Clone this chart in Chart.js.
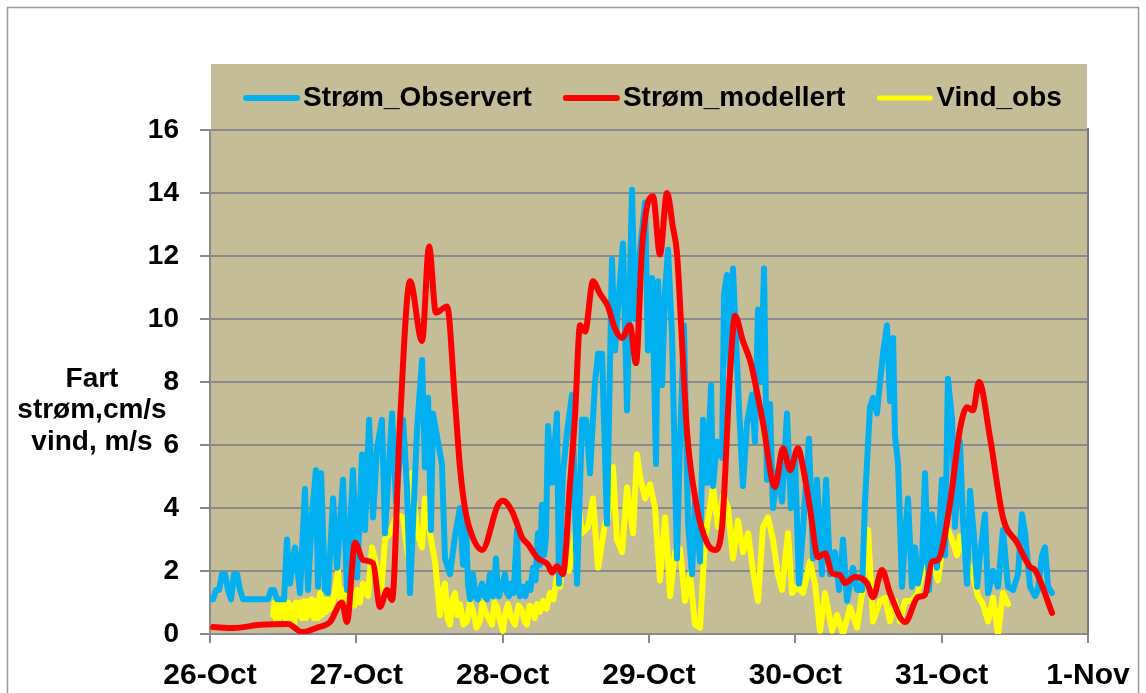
<!DOCTYPE html>
<html><head><meta charset="utf-8">
<script src="https://cdn.jsdelivr.net/npm/chart.js@4/dist/chart.umd.min.js"></script>
<style>html,body{margin:0;padding:0;background:#fff}#wrap{width:1146px;height:693px;position:relative}</style>
</head><body><div id="wrap"><canvas id="c" width="1146" height="693"></canvas></div>
<script>
// ---- data ----
const dateLabels = ["26-Oct","27-Oct","28-Oct","29-Oct","30-Oct","31-Oct","1-Nov"];
const seriesNames = ["Strøm_Observert","Strøm_modellert","Vind_obs"];
const yTitleLines = ["Fart","strøm,cm/s","vind, m/s"];

// days after 26-Oct 00:00
const obsDays = [
0,0.021,0.041,0.062,0.082,0.103,0.123,0.144,0.164,0.185,
0.205,0.226,0.396,0.417,0.437,0.458,0.506,0.526,0.547,0.581,
0.615,0.649,0.670,0.697,0.724,0.738,0.759,0.786,0.806,0.841,
0.868,0.909,0.936,0.977,1.005,1.039,1.059,1.087,1.114,1.141,
1.175,1.196,1.244,1.271,1.319,1.346,1.367,1.415,1.449,1.469,
1.490,1.510,1.524,1.558,1.585,1.606,1.640,1.674,1.708,1.729,
1.749,1.763,1.777,1.787,1.797,1.814,1.831,1.845,1.859,1.876,
1.893,1.903,1.913,1.924,1.934,1.944,1.954,1.965,1.975,1.995,
2.016,2.030,2.043,2.060,2.075,2.098,2.108,2.118,2.140,2.155,
2.173,2.190,2.207,2.225,2.241,2.255,2.269,2.283,2.296,2.310,
2.337,2.371,2.385,2.412,2.440,2.474,2.508,2.542,2.570,2.597,
2.631,2.652,2.679,2.713,2.747,2.768,2.795,2.822,2.850,2.884,
2.904,2.925,2.973,2.993,3.021,3.048,3.062,3.089,3.110,3.130,
3.157,3.191,3.212,3.239,3.267,3.294,3.314,3.349,3.369,3.396,
3.424,3.437,3.465,3.499,3.513,3.533,3.554,3.574,3.595,3.615,
3.642,3.670,3.704,3.724,3.745,3.765,3.786,3.806,3.827,3.847,
3.881,3.909,3.943,3.970,3.998,4.025,4.052,4.093,4.121,4.148,
4.182,4.210,4.237,4.271,4.299,4.326,4.353,4.394,4.422,4.456,
4.476,4.510,4.531,4.558,4.579,4.599,4.626,4.647,4.668,4.681,
4.702,4.729,4.750,4.770,4.797,4.818,4.838,4.866,4.886,4.914,
4.934,4.968,5.002,5.023,5.043,5.071,5.091,5.125,5.146,5.173,
5.194,5.221,5.242,5.262,5.296,5.317,5.351,5.385,5.419,5.453,
5.488,5.522,5.549,5.570,5.604,5.638,5.658,5.686,5.706,5.727,
5.754];
const obsVals = [
1.1,1.1,1.4,1.4,1.9,1.9,1.4,1.1,1.9,1.9,
1.4,1.1,1.1,1.4,1.4,1.1,1.1,3.0,1.6,2.75,
1.3,4.6,1.4,3.8,5.2,1.5,5.1,1.4,1.3,4.3,
2.1,4.9,1.4,5.2,1.8,5.7,3.3,6.8,3.7,5.9,
6.8,3.2,7.0,4.2,6.8,4.7,1.3,6.5,8.7,5.3,
7.5,3.3,7.0,6.1,5.4,2.4,1.9,3.1,4.0,2.2,
3.6,1.6,1.1,1.5,1.9,1.2,1.1,1.4,1.6,1.2,
1.1,1.5,1.9,1.3,1.2,1.6,2.4,1.5,1.2,1.5,
1.9,1.3,1.2,1.6,1.3,3.3,1.6,1.2,1.5,1.2,
1.6,1.4,2.1,1.7,3.2,2.2,4.1,2.5,3.1,6.6,
4.8,7.0,1.6,5.1,6.4,7.6,1.6,6.8,6.8,5.1,
8.0,8.9,8.9,3.5,11.9,9.0,10.8,12.4,7.1,14.1,
10.0,11.6,13.7,9.0,11.3,5.4,11.2,7.9,10.9,12.2,
9.5,2.4,6.1,9.8,3.5,1.9,4.2,2.3,6.8,4.8,
7.9,4.7,6.1,5.6,10.8,11.4,8.2,11.6,9.3,7.2,
4.7,6.7,7.6,6.1,10.3,8.0,11.6,4.9,7.3,4.0,
5.2,4.2,7.0,4.0,5.6,1.6,3.3,6.2,2.4,4.9,
1.9,4.9,1.9,2.6,1.4,3.0,1.05,2.1,1.4,1.4,
4.2,7.2,7.5,7.0,8.0,8.9,9.8,7.4,9.4,6.3,
5.4,1.5,3.2,4.3,1.5,2.75,1.6,2.3,5.1,1.4,
3.8,2.1,4.9,2.5,8.1,6.8,3.4,6.1,3.6,1.6,
4.55,3.1,1.5,2.5,3.8,1.3,2.0,1.5,3.3,1.5,
1.4,1.9,3.8,3.2,1.5,1.2,1.4,2.5,2.75,1.5,
1.3];

const modDays = [
0.021,0.157,0.342,0.533,0.629,0.731,0.820,0.902,0.936,0.991,
1.046,1.114,1.162,1.210,1.244,1.298,1.367,1.449,1.497,1.544,
1.620,1.674,1.708,1.742,1.777,1.859,1.968,2.002,2.063,2.098,
2.132,2.173,2.241,2.310,2.337,2.371,2.412,2.460,2.494,2.529,
2.563,2.617,2.665,2.719,2.767,2.815,2.870,2.911,2.952,2.993,
3.027,3.075,3.123,3.164,3.191,3.232,3.260,3.328,3.396,3.451,
3.499,3.554,3.588,3.642,3.690,3.711,3.779,3.861,3.916,3.964,
4.018,4.052,4.100,4.155,4.203,4.251,4.305,4.339,4.408,4.490,
4.531,4.592,4.647,4.750,4.838,4.886,4.934,4.975,5.057,5.125,
5.173,5.214,5.255,5.330,5.419,5.515,5.604,5.638,5.754];
const modVals = [
0.22,0.19,0.29,0.32,0.06,0.2,0.38,1.0,0.38,2.9,
2.35,2.25,0.86,1.4,1.08,6.7,11.2,9.3,12.3,10.2,
10.4,7.4,5.3,4.0,3.3,2.67,4.1,4.23,3.9,3.5,
3.07,2.85,2.4,2.2,1.95,2.15,1.9,4.75,6.9,9.8,
9.6,11.2,10.8,10.4,9.7,9.4,9.8,8.6,12.2,13.7,
13.9,12.05,14.0,12.9,12.1,8.7,6.4,4.0,2.9,2.67,
3.4,8.3,10.1,9.3,8.7,8.3,6.7,4.67,5.9,5.2,
5.9,5.3,4.0,2.44,2.56,1.93,1.87,1.62,1.81,1.62,
1.17,2.03,1.3,0.38,1.17,1.24,2.29,2.35,4.15,6.5,
7.2,7.1,8.0,6.25,3.7,2.9,2.13,2.03,0.67];

const windDays = [
0.431,0.441,0.451,0.462,0.472,0.482,0.492,0.505,0.519,0.533,
0.547,0.560,0.574,0.588,0.601,0.615,0.629,0.642,0.656,0.670,
0.683,0.697,0.711,0.724,0.738,0.752,0.765,0.779,0.793,0.806,
0.820,0.841,0.858,0.875,0.889,0.902,0.919,0.936,0.953,0.970,
0.988,1.005,1.025,1.046,1.080,1.107,1.141,1.169,1.196,1.230,
1.278,1.319,1.353,1.380,1.415,1.449,1.469,1.503,1.538,1.572,
1.589,1.606,1.623,1.640,1.657,1.674,1.691,1.708,1.732,1.756,
1.776,1.797,1.821,1.845,1.862,1.879,1.903,1.927,1.944,1.961,
1.982,2.002,2.019,2.036,2.060,2.084,2.108,2.132,2.149,2.166,
2.183,2.200,2.218,2.235,2.255,2.276,2.300,2.323,2.347,2.371,
2.392,2.412,2.453,2.487,2.515,2.542,2.583,2.617,2.652,2.699,
2.720,2.754,2.781,2.816,2.850,2.891,2.918,2.939,2.973,3.007,
3.041,3.075,3.110,3.130,3.144,3.178,3.212,3.246,3.280,3.314,
3.349,3.383,3.403,3.437,3.472,3.506,3.540,3.574,3.608,3.642,
3.677,3.711,3.745,3.779,3.813,3.847,3.881,3.909,3.950,3.977,
4.011,4.052,4.100,4.134,4.169,4.203,4.251,4.285,4.326,4.374,
4.422,4.456,4.497,4.531,4.579,4.613,4.647,4.681,4.715,4.750,
4.797,4.838,4.873,4.907,4.941,4.975,5.009,5.043,5.071,5.105,
5.125,5.166,5.207,5.248,5.283,5.317,5.351,5.385,5.419,5.453];
const windVals = [
0.6,1.0,0.4,1.0,0.5,1.1,0.6,0.95,0.4,1.0,
0.5,0.9,0.3,1.0,0.6,1.0,0.5,1.05,0.5,1.05,
0.6,1.1,0.5,1.05,0.5,1.3,0.6,1.1,0.7,1.1,
0.8,1.05,1.5,2.0,1.1,1.4,0.9,1.5,0.9,1.3,
0.9,1.4,1.0,1.6,1.2,2.75,2.1,1.3,3.0,3.2,
3.8,3.7,2.5,5.1,3.2,2.75,4.3,3.2,2.3,0.6,
1.3,1.6,0.5,0.3,1.1,1.3,0.6,0.95,0.3,0.4,
1.0,0.75,0.2,0.4,1.0,0.75,0.5,0.3,1.0,0.85,
0.4,0.1,0.7,0.95,0.5,0.3,0.9,0.75,0.4,0.3,
0.9,0.85,0.5,0.95,0.7,1.05,0.8,1.3,1.1,1.8,
1.5,2.4,2.0,3.0,4.2,3.2,3.4,4.3,2.1,3.5,
3.7,5.3,3.0,2.6,4.65,3.2,5.7,5.0,4.3,4.75,
4.0,1.7,3.7,2.4,1.2,2.6,2.7,1.05,1.9,0.3,
0.2,3.0,3.6,4.65,3.4,4.4,4.0,2.4,3.6,2.6,
3.2,2.0,1.05,3.4,3.7,3.0,1.9,1.4,3.2,1.3,
1.5,1.3,2.3,1.6,0.1,1.3,0.1,0.6,0.0,0.85,
0.2,1.3,3.3,0.4,1.05,1.15,0.4,1.05,0.4,1.05,
1.05,1.3,2.1,1.9,2.2,1.7,2.85,3.3,3.0,2.5,
3.1,2.4,2.0,1.2,0.95,0.4,1.15,0.0,1.3,0.95];

const toXY = (xs, ys) => xs.map((x, i) => ({x: x, y: ys[i]}));

// ---- styling ----
const FONT = '"Liberation Sans", Arial, sans-serif';
const GRID = '#8a8a8a';
const TAN = '#C4BD97';

const decor = {
  id: 'decor',
  beforeDraw(chart) {
    const {ctx, chartArea: a} = chart;
    ctx.save();
    ctx.fillStyle = '#fff';
    ctx.fillRect(0, 0, chart.width, chart.height);
    ctx.strokeStyle = '#9a9a9a';
    ctx.lineWidth = 1.5;
    ctx.strokeRect(7.5, 7.5, 1131, 720);
    ctx.fillStyle = TAN;
    ctx.fillRect(a.left + 1, 64, a.right - a.left - 2, a.bottom - 64);
    ctx.restore();
  },
  afterDraw(chart) {
    const {ctx, chartArea: a} = chart;
    ctx.save();
    ctx.strokeStyle = '#7a7a7a';
    ctx.lineWidth = 2;
    ctx.beginPath();
    ctx.moveTo(a.right, a.top - 2);
    ctx.lineTo(a.right, a.bottom);
    ctx.stroke();
    ctx.font = 'bold 28px ' + FONT;
    ctx.textBaseline = 'middle';
    ctx.textAlign = 'left';
    const ds = chart.data.datasets;
    const sample = 55, gap = 4, between = 32;
    const widths = ds.map(d => ctx.measureText(d.label).width);
    let total = widths.reduce((s, w) => s + sample + gap + w, 0) + between * (ds.length - 1);
    let x = (a.left + a.right) / 2 + 4 - total / 2;
    const ly = 98;
    ds.forEach((d, i) => {
      ctx.strokeStyle = d.borderColor;
      ctx.lineWidth = d.legendWidth;
      ctx.lineCap = 'round';
      ctx.beginPath();
      ctx.moveTo(x + 2, ly);
      ctx.lineTo(x + sample - 2, ly);
      ctx.stroke();
      ctx.fillStyle = '#000';
      ctx.fillText(d.label, x + sample + gap, ly);
      x += sample + gap + widths[i] + between;
    });
    ctx.textAlign = 'center';
    yTitleLines.forEach((t, i) => ctx.fillText(t, 92, 379 + i * 31.5));
    ctx.restore();
  }
};

new Chart(document.getElementById('c'), {
  type: 'line',
  data: {
    datasets: [
      {label: seriesNames[0], data: toXY(obsDays, obsVals), borderColor: '#00B0F0', backgroundColor: '#00B0F0',
       borderWidth: 6, legendWidth: 6, order: 1, tension: 0, borderJoinStyle: 'round', borderCapStyle: 'round'},
      {label: seriesNames[1], data: toXY(modDays, modVals), borderColor: '#FF0000', backgroundColor: '#FF0000',
       borderWidth: 6, legendWidth: 6, order: 0, cubicInterpolationMode: 'monotone', borderJoinStyle: 'round', borderCapStyle: 'round'},
      {label: seriesNames[2], data: toXY(windDays, windVals), borderColor: '#FFFF00', backgroundColor: '#FFFF00',
       borderWidth: 6, legendWidth: 5, order: 2, tension: 0, borderJoinStyle: 'round', borderCapStyle: 'round'}
    ]
  },
  options: {
    responsive: false,
    animation: false,
    devicePixelRatio: 1,
    layout: {padding: {top: 130, left: 0, right: 58, bottom: 0}},
    elements: {point: {radius: 0, hoverRadius: 0}},
    plugins: {legend: {display: false}, tooltip: {enabled: false}},
    scales: {
      x: {
        type: 'linear', min: 0, max: 6,
        ticks: {stepSize: 1, autoSkip: false, maxRotation: 0, padding: 15, color: '#000',
                font: {family: FONT, size: 30, weight: 'bold'},
                callback: v => dateLabels[v]},
        grid: {drawOnChartArea: false, drawTicks: true, tickLength: 9, color: GRID, lineWidth: 2},
        border: {color: GRID, width: 2},
        afterFit: s => { s.height = 59; }
      },
      y: {
        min: 0, max: 16,
        ticks: {stepSize: 2, padding: 21, color: '#000', font: {family: FONT, size: 28, weight: 'bold'}},
        grid: {color: GRID, lineWidth: 2, tickLength: 10},
        border: {color: GRID, width: 2},
        afterFit: s => { s.width = 210; }
      }
    }
  },
  plugins: [decor]
});
</script></body></html>
